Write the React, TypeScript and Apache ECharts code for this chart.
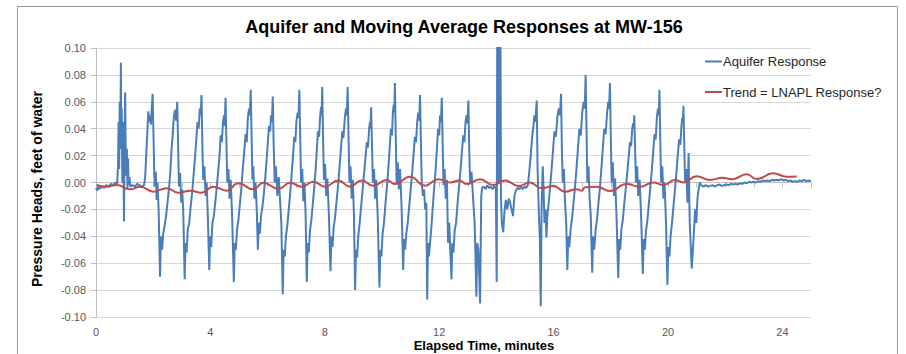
import React, { useEffect, useRef } from "react";
import * as echarts from "echarts";

const FONT = "'Liberation Sans', Arial, sans-serif";

const chartTitle = "Aquifer and Moving Average Responses at MW-156";
const xAxisTitle = "Elapsed Time, minutes";
const yAxisTitle = "Pressure Heads, feet of water";
const seriesNames = ["Aquifer Response", "Trend = LNAPL Response?"];

// Aquifer response: [minutes, feet of water]
const aquiferResponse: [number, number][] = [
  [0, -0.004], [0.04, -0.006], [0.08, -0.003], [0.12, -0.005], [0.2, -0.003], [0.28, -0.004], [0.36, -0.002], [0.44, -0.003], [0.52, -0.001], [0.6, -0.002], [0.68, 0.0], [0.74, -0.001],
  [0.77, 0.012], [0.79, 0.045], [0.81, 0.01], [0.83, 0.06], [0.85, 0.025], [0.87, 0.089], [0.88, 0.03], [0.9, 0.055], [0.92, 0.0], [0.94, 0.045], [0.96, 0.01], [0.98, -0.029], [1.0, 0.035], [1.02, 0.067], [1.04, 0.02], [1.06, 0.005], [1.08, 0.025], [1.1, -0.004], [1.12, 0.018], [1.14, -0.002], [1.17, 0.004], [1.2, -0.003],
  [1.28, -0.002], [1.36, -0.003], [1.44, -0.001], [1.52, -0.002], [1.6, -0.003], [1.68, -0.002],
  [1.72, 0.004], [1.76, 0.022], [1.8, 0.04], [1.83, 0.053], [1.86, 0.045], [1.89, 0.05], [1.92, 0.043], [1.95, 0.055], [1.98, 0.066],
  [2.01, 0.035], [2.04, 0.005], [2.06, -0.003], [2.09, 0.008], [2.12, -0.013], [2.15, 0.0], [2.19, -0.02], [2.24, -0.07],
  [2.27, -0.04], [2.31, -0.05], [2.35, -0.038], [2.4, -0.032], [2.45, -0.025], [2.5, -0.015], [2.55, -0.005], [2.6, 0.008], [2.64, 0.024], [2.68, 0.035], [2.72, 0.048], [2.76, 0.054], [2.8, 0.046], [2.84, 0.06],
  [2.87, 0.03], [2.9, -0.003], [2.94, 0.007], [2.98, -0.015], [3.01, -0.005], [3.05, -0.02], [3.1, -0.072],
  [3.13, -0.045], [3.17, -0.052], [3.21, -0.035], [3.26, -0.03], [3.31, -0.018], [3.36, -0.008], [3.41, 0.005], [3.46, 0.018], [3.5, 0.03], [3.55, 0.045], [3.59, 0.04], [3.63, 0.055], [3.66, 0.05], [3.69, 0.065],
  [3.72, 0.025], [3.75, 0.002], [3.79, 0.012], [3.83, -0.01], [3.87, 0.0], [3.91, -0.025], [3.96, -0.065],
  [3.99, -0.04], [4.03, -0.048], [4.07, -0.03], [4.12, -0.025], [4.17, -0.015], [4.22, -0.004], [4.27, 0.008], [4.32, 0.02], [4.36, 0.035], [4.4, 0.03], [4.44, 0.045], [4.48, 0.05], [4.5, 0.042], [4.53, 0.063],
  [4.56, 0.03], [4.59, 0.0], [4.63, 0.01], [4.67, -0.012], [4.71, 0.002], [4.76, -0.025], [4.82, -0.074],
  [4.85, -0.045], [4.89, -0.05], [4.93, -0.035], [4.98, -0.028], [5.03, -0.016], [5.08, -0.005], [5.13, 0.01], [5.18, 0.022], [5.23, 0.036], [5.27, 0.03], [5.31, 0.048], [5.35, 0.055], [5.38, 0.05], [5.41, 0.069],
  [5.44, 0.035], [5.47, 0.002], [5.5, 0.012], [5.54, -0.012], [5.58, 0.0], [5.62, -0.02], [5.66, -0.05],
  [5.69, -0.03], [5.73, -0.038], [5.77, -0.025], [5.82, -0.018], [5.87, -0.008], [5.92, 0.004], [5.97, 0.018], [6.01, 0.03], [6.05, 0.042], [6.09, 0.038], [6.12, 0.05], [6.15, 0.045], [6.18, 0.064],
  [6.21, 0.03], [6.25, 0.0], [6.29, 0.012], [6.34, -0.01], [6.39, 0.004], [6.44, -0.015], [6.48, -0.03], [6.53, -0.083],
  [6.56, -0.05], [6.6, -0.055], [6.64, -0.04], [6.69, -0.032], [6.74, -0.02], [6.79, -0.008], [6.84, 0.006], [6.89, 0.02], [6.93, 0.034], [6.97, 0.03], [7.01, 0.046], [7.05, 0.052], [7.08, 0.048], [7.11, 0.069],
  [7.14, 0.035], [7.17, 0.0], [7.21, 0.01], [7.25, -0.014], [7.29, 0.0], [7.33, -0.025], [7.37, -0.074],
  [7.4, -0.045], [7.44, -0.052], [7.48, -0.036], [7.53, -0.028], [7.58, -0.016], [7.63, -0.004], [7.68, 0.01], [7.72, 0.024], [7.76, 0.038], [7.8, 0.034], [7.84, 0.05], [7.87, 0.056], [7.89, 0.05], [7.91, 0.071],
  [7.94, 0.032], [7.97, 0.002], [8.01, 0.014], [8.05, -0.01], [8.09, 0.003], [8.14, -0.022], [8.2, -0.066],
  [8.23, -0.04], [8.27, -0.048], [8.31, -0.033], [8.36, -0.026], [8.41, -0.014], [8.46, -0.003], [8.51, 0.01], [8.56, 0.024], [8.61, 0.038], [8.65, 0.033], [8.7, 0.048], [8.74, 0.055], [8.77, 0.05], [8.8, 0.071],
  [8.83, 0.034], [8.86, 0.0], [8.9, 0.012], [8.94, -0.012], [8.98, 0.002], [9.02, -0.025], [9.06, -0.08],
  [9.09, -0.05], [9.13, -0.056], [9.17, -0.04], [9.22, -0.03], [9.27, -0.018], [9.32, -0.006], [9.37, 0.006], [9.42, 0.018], [9.47, 0.03], [9.51, 0.026], [9.55, 0.04], [9.58, 0.045], [9.6, 0.04], [9.62, 0.056],
  [9.65, 0.028], [9.68, 0.0], [9.72, 0.01], [9.76, -0.012], [9.8, 0.002], [9.85, -0.025], [9.91, -0.078],
  [9.94, -0.05], [9.98, -0.055], [10.02, -0.038], [10.07, -0.03], [10.12, -0.016], [10.17, -0.004], [10.22, 0.01], [10.27, 0.026], [10.31, 0.04], [10.35, 0.035], [10.38, 0.052], [10.41, 0.058], [10.43, 0.052], [10.45, 0.074],
  [10.48, 0.035], [10.51, 0.0], [10.55, 0.015], [10.59, -0.005], [10.63, 0.01], [10.68, -0.015], [10.74, -0.065],
  [10.77, -0.042], [10.81, -0.05], [10.85, -0.038], [10.9, -0.03], [10.95, -0.018], [11.0, -0.006], [11.05, 0.006], [11.1, 0.02], [11.15, 0.034], [11.19, 0.03], [11.23, 0.045], [11.27, 0.052], [11.3, 0.046], [11.33, 0.065],
  [11.36, 0.03], [11.39, 0.0], [11.43, -0.01], [11.47, -0.005], [11.51, -0.02], [11.55, -0.015], [11.58, -0.087],
  [11.61, -0.045], [11.64, -0.055], [11.68, -0.045], [11.72, -0.035], [11.77, -0.02], [11.82, -0.005], [11.87, 0.008], [11.92, 0.025], [11.96, 0.04], [12.0, 0.035], [12.03, 0.05], [12.06, 0.045], [12.09, 0.063],
  [12.12, 0.03], [12.15, -0.002], [12.19, 0.01], [12.23, -0.012], [12.27, 0.002], [12.31, -0.045], [12.35, -0.03], [12.43, -0.072],
  [12.46, -0.045], [12.5, -0.052], [12.54, -0.036], [12.59, -0.03], [12.64, -0.016], [12.69, -0.004], [12.74, 0.008], [12.79, 0.022], [12.84, 0.035], [12.88, 0.03], [12.92, 0.045], [12.96, 0.05], [12.99, 0.044], [13.02, 0.061],
  [13.05, 0.025], [13.08, 0.0], [13.13, 0.008], [13.18, -0.01], [13.24, -0.03], [13.3, -0.085], [13.33, -0.045], [13.37, -0.05], [13.43, -0.09],
  [13.47, -0.01], [13.5, -0.004], [13.56, -0.003], [13.62, -0.005], [13.68, -0.002], [13.74, -0.004], [13.8, -0.003], [13.86, -0.005], [13.92, -0.003], [13.98, -0.004],
  [14.01, -0.074], [14.03, 0.13], [14.06, 0.0], [14.09, 0.13], [14.12, 0.0], [14.14, 0.13], [14.16, -0.01],
  [14.19, -0.03], [14.24, -0.037], [14.28, -0.022], [14.33, -0.013], [14.38, -0.02], [14.43, -0.012], [14.48, -0.015], [14.53, -0.02], [14.58, -0.025], [14.63, -0.01], [14.68, -0.006], [14.74, -0.004], [14.8, -0.005], [14.86, -0.003], [14.92, -0.005], [14.98, -0.003], [15.04, -0.004], [15.1, -0.002],
  [15.15, 0.008], [15.2, 0.02], [15.25, 0.034], [15.29, 0.041], [15.33, 0.05], [15.36, 0.045], [15.41, 0.061],
  [15.44, 0.01], [15.48, -0.02], [15.52, -0.043], [15.55, -0.092],
  [15.58, -0.02], [15.62, 0.012], [15.65, -0.005], [15.68, -0.03], [15.72, -0.02], [15.75, -0.041], [15.78, -0.025], [15.83, -0.015], [15.88, -0.003], [15.93, 0.01], [15.98, 0.024], [16.03, 0.038], [16.08, 0.034], [16.13, 0.048], [16.18, 0.055], [16.22, 0.05], [16.26, 0.066],
  [16.29, 0.025], [16.32, 0.0], [16.36, 0.01], [16.4, -0.015], [16.44, -0.03], [16.48, -0.065],
  [16.51, -0.04], [16.55, -0.048], [16.6, -0.034], [16.65, -0.026], [16.7, -0.014], [16.75, -0.003], [16.8, 0.01], [16.85, 0.025], [16.9, 0.04], [16.95, 0.035], [17.0, 0.052], [17.05, 0.06], [17.09, 0.055], [17.12, 0.08],
  [17.15, 0.04], [17.18, 0.0], [17.22, 0.012], [17.26, -0.012], [17.3, -0.025], [17.35, -0.067],
  [17.38, -0.04], [17.42, -0.05], [17.47, -0.035], [17.52, -0.027], [17.57, -0.015], [17.62, -0.004], [17.67, 0.01], [17.72, 0.025], [17.77, 0.04], [17.82, 0.036], [17.87, 0.052], [17.91, 0.06], [17.94, 0.055], [17.97, 0.074],
  [18.0, 0.035], [18.03, 0.0], [18.07, 0.015], [18.11, -0.01], [18.15, 0.003], [18.2, -0.025], [18.26, -0.071],
  [18.29, -0.042], [18.33, -0.05], [18.37, -0.035], [18.42, -0.028], [18.47, -0.016], [18.52, -0.005], [18.57, 0.006], [18.62, 0.018], [18.67, 0.03], [18.71, 0.027], [18.75, 0.04], [18.78, 0.044], [18.8, 0.04], [18.82, 0.05],
  [18.85, 0.025], [18.88, 0.0], [18.92, 0.012], [18.96, -0.01], [19.01, 0.002], [19.06, -0.025], [19.12, -0.068],
  [19.15, -0.042], [19.19, -0.05], [19.23, -0.036], [19.28, -0.028], [19.33, -0.016], [19.38, -0.004], [19.43, 0.008], [19.48, 0.022], [19.53, 0.036], [19.57, 0.032], [19.61, 0.048], [19.65, 0.055], [19.68, 0.05], [19.7, 0.069],
  [19.73, 0.032], [19.76, 0.0], [19.8, 0.012], [19.84, -0.012], [19.88, 0.0], [19.93, -0.03], [19.98, -0.076],
  [20.01, -0.048], [20.05, -0.055], [20.09, -0.04], [20.14, -0.03], [20.19, -0.018], [20.24, -0.006], [20.29, 0.006], [20.34, 0.02], [20.39, 0.032], [20.43, 0.028], [20.47, 0.042], [20.5, 0.048], [20.52, 0.044], [20.54, 0.057],
  [20.57, 0.025], [20.6, 0.0], [20.64, 0.01], [20.68, -0.015], [20.72, 0.022], [20.76, -0.03], [20.79, -0.045], [20.83, -0.064],
  [20.87, -0.05], [20.91, -0.035], [20.95, -0.02], [20.99, -0.03], [21.03, -0.012], [21.07, -0.005], [21.11, 0.0],
  [21.16, -0.002], [21.24, -0.003], [21.32, -0.002], [21.4, -0.003], [21.48, -0.0025], [21.56, -0.002], [21.64, -0.003], [21.72, -0.002], [21.8, -0.0015], [21.88, -0.0025], [21.96, -0.002], [22.04, -0.0015], [22.12, -0.002], [22.2, -0.001], [22.28, -0.0015], [22.36, -0.001], [22.44, -0.0015], [22.52, -0.0005], [22.6, -0.001], [22.68, 0.0], [22.76, -0.0005], [22.84, 0.0005], [22.92, 0.0], [23.0, 0.0005], [23.08, 0.0], [23.16, 0.001], [23.24, 0.0005], [23.32, 0.0015], [23.4, 0.001], [23.48, 0.0015], [23.56, 0.001], [23.64, 0.002], [23.72, 0.0015], [23.8, 0.002], [23.88, 0.0015], [23.96, 0.0025], [24.04, 0.0015], [24.12, 0.002], [24.2, 0.001], [24.28, 0.0015], [24.36, 0.0005], [24.44, 0.001], [24.52, 0.0005], [24.6, 0.0015], [24.68, 0.001], [24.76, 0.002], [24.84, 0.001], [24.92, 0.0015], [25.0, 0.001],
];

// Moving-average trend: [minutes, feet of water]
const trendResponse: [number, number][] = [
  [0.02, -0.0019], [0.37, -0.0031], [0.72, -0.0019], [1.19, -0.0051], [1.54, -0.0031], [2.01, -0.0068], [2.47, -0.0043], [2.88, -0.0076],
  [3.29, -0.0061], [3.69, -0.0076], [4.1, -0.0031], [4.57, -0.0061], [4.98, -0.0006], [5.5, -0.0051], [5.85, -0.0001], [6.38, -0.0048],
  [6.78, -0.0001], [7.19, -0.0031], [7.6, 0.0006], [8.01, -0.0031], [8.47, 0.0014], [8.88, -0.0031], [9.29, 0.0014], [9.7, -0.0024],
  [10.16, 0.0019], [10.45, -0.0011], [10.98, 0.0043], [11.5, -0.0024], [11.97, 0.0024], [12.38, 0.0], [12.7, 0.0015], [12.96, -0.0011],
  [13.43, 0.0024], [13.89, -0.0019], [14.3, 0.0014], [14.77, -0.0026], [15.17, 0.0], [15.58, -0.0043], [15.99, -0.0026], [16.4, -0.0068],
  [16.81, -0.005], [16.98, -0.0061], [17.1, -0.0036], [17.5, -0.0031], [17.97, -0.0063], [18.55, -0.0011], [19.02, -0.0031], [19.49, 0.0],
  [19.84, -0.0019], [20.24, 0.0019], [20.54, 0.0], [21.0, 0.0046], [21.47, 0.0019], [21.9, 0.0035], [22.25, 0.0025], [22.75, 0.0061],
  [23.1, 0.0026], [23.68, 0.0068], [24.15, 0.0043], [24.5, 0.0045],
];

const xMin = 0;
const xMax = 25;
const xStep = 1;
const xLabelEvery = 4;
const yMin = -0.1;
const yMax = 0.1;
const yStep = 0.02;

export default function App() {
  const ref = useRef<HTMLDivElement>(null);

  useEffect(() => {
    if (!ref.current) return;
    const chart = echarts.init(ref.current, null, { renderer: "svg" });
    const axisGray = "#bfbfbf";
    const labelColor = "#595959";
    chart.setOption({
      animation: false,
      backgroundColor: "#ffffff",
      textStyle: { fontFamily: FONT },
      grid: { left: 96, right: 95, top: 48, bottom: 37, containLabel: false },
      graphic: [
        {
          type: "rect",
          shape: { x: 17.5, y: 6.5, width: 880, height: 360 },
          style: { fill: "none", stroke: "#9a9a9a", lineWidth: 1 },
          silent: true,
          z: -1,
        },
        {
          type: "text",
          x: 464,
          y: 27,
          style: {
            text: chartTitle,
            font: `bold 18px ${FONT}`,
            fill: "#000000",
            align: "center",
            verticalAlign: "middle",
          },
        },
        {
          type: "text",
          x: 484,
          y: 345,
          style: {
            text: xAxisTitle,
            font: `bold 13px ${FONT}`,
            fill: "#000000",
            align: "center",
            verticalAlign: "middle",
          },
        },
        {
          type: "text",
          x: 37,
          y: 189,
          rotation: Math.PI / 2,
          style: {
            text: yAxisTitle,
            font: `bold 14px ${FONT}`,
            fill: "#000000",
            align: "center",
            verticalAlign: "middle",
          },
        },
      ],
      legend: {
        orient: "vertical",
        left: 700,
        top: 50,
        icon: "rect",
        itemWidth: 17,
        itemHeight: 2,
        itemGap: 17.5,
        data: seriesNames,
        textStyle: { fontSize: 13, color: "#262626", fontFamily: FONT, padding: [0, 0, 0, -4] },
      },
      xAxis: {
        type: "value",
        min: xMin,
        max: xMax,
        interval: xStep,
        axisLine: { show: true, lineStyle: { color: axisGray, width: 1 } },
        axisTick: { show: true, length: 5, lineStyle: { color: axisGray } },
        splitLine: { show: false },
        axisLabel: {
          color: labelColor,
          fontSize: 11,
          fontFamily: FONT,
          margin: 9,
          formatter: (v: number) => (Math.round(v) % xLabelEvery === 0 ? String(Math.round(v)) : ""),
        },
      },
      yAxis: {
        type: "value",
        min: yMin,
        max: yMax,
        interval: yStep,
        axisLine: { show: true, lineStyle: { color: axisGray, width: 1 } },
        axisTick: { show: true, length: 5, lineStyle: { color: axisGray } },
        splitLine: { show: true, lineStyle: { color: "#d9d9d9", width: 1 } },
        axisLabel: {
          color: labelColor,
          fontSize: 11,
          fontFamily: FONT,
          margin: 10,
          formatter: (v: number) => (Math.abs(v) < 1e-9 ? "0.00" : v.toFixed(2)),
        },
      },
      series: [
        {
          type: "line",
          name: seriesNames[0],
          data: aquiferResponse,
          symbol: "none",
          showSymbol: false,
          clip: true,
          lineStyle: { color: "#4A7EBB", width: 2 },
          itemStyle: { color: "#4A7EBB" },
          z: 2,
        },
        {
          type: "line",
          name: seriesNames[1],
          data: trendResponse,
          symbol: "none",
          showSymbol: false,
          smooth: 0.5,
          clip: true,
          lineStyle: { color: "#BE4B48", width: 2 },
          itemStyle: { color: "#BE4B48" },
          z: 3,
        },
      ],
    });
    return () => chart.dispose();
  }, []);

  return (
    <div
      ref={ref}
      style={{ position: "fixed", left: 0, top: 0, width: 906, height: 354 }}
    />
  );
}
